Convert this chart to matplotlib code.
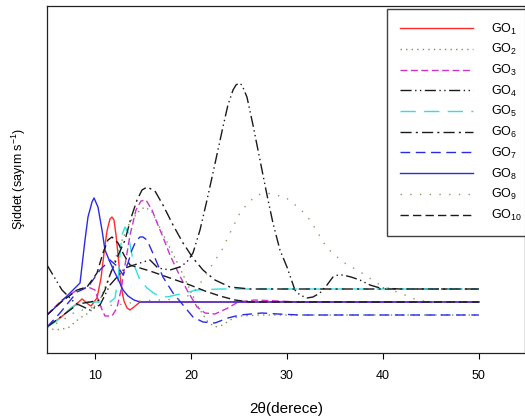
import matplotlib
matplotlib.use("Agg")
import matplotlib.pyplot as plt

plt.rcParams['font.family'] = ['Liberation Sans', 'DejaVu Sans']
plt.rcParams['mathtext.fontset'] = 'custom'
plt.rcParams['mathtext.rm'] = 'Liberation Sans'
plt.rcParams['mathtext.it'] = 'Liberation Sans:italic'
plt.rcParams['lines.scale_dashes'] = False

# --- data (2theta in degrees, intensity in arbitrary units) ---
go1_x = [5.0, 6.35, 7.71, 8.65, 9.27, 9.58, 10.21, 10.63, 10.94, 11.25, 11.56, 11.77, 11.98, 12.19, 12.4, 12.6, 12.81, 13.02, 13.34, 13.65, 14.06, 14.69, 50]
go1_y = [26, 35, 46, 54, 49, 47, 55, 75, 100, 122, 134, 136, 133, 118, 98, 78, 62, 52, 45, 43, 46, 51, 51]

go2_x = [5.0, 5.83, 7.19, 8.44, 9.48, 10.52, 11.56, 12.6, 13.65, 14.69, 15.21, 15.94, 16.77, 17.81, 18.85, 19.9, 20.94, 21.77, 22.5, 23.33, 24.06, 25.1, 27.19, 50]
go2_y = [26, 23, 25, 35, 41, 53, 78, 108, 131, 143, 146, 141, 125, 105, 85, 63, 43, 31, 26, 28, 33, 37, 38, 38]

go3_x = [5.0, 6.56, 8.13, 9.27, 10.0, 10.52, 11.04, 11.77, 12.29, 12.71, 13.13, 13.65, 14.27, 14.79, 15.31, 15.94, 16.56, 17.08, 17.81, 18.54, 19.58, 20.63, 21.46, 22.5, 23.85, 24.9, 26.67, 29.06, 31.35, 50]
go3_y = [38, 53, 63, 66, 63, 48, 37, 37, 45, 63, 88, 118, 143, 152, 153, 143, 128, 116, 98, 83, 63, 46, 40, 39, 45, 51, 53, 52, 51, 51]

go4_x = [5.0, 6.56, 7.92, 9.48, 10.52, 11.56, 13.13, 15.0, 15.73, 16.56, 17.81, 18.85, 19.58, 20.21, 20.94, 21.67, 22.29, 22.81, 23.33, 23.85, 24.38, 24.69, 25.0, 25.31, 25.83, 26.46, 27.19, 27.92, 28.54, 29.27, 30.0, 30.83, 31.35, 32.08, 32.71, 33.44, 34.17, 34.79, 35.31, 35.83, 36.67, 37.6, 38.65, 39.69, 41.77, 50]
go4_y = [88, 63, 50, 43, 48, 68, 85, 91, 93, 85, 83, 86, 91, 100, 123, 153, 180, 203, 226, 248, 263, 268, 270, 268, 256, 228, 193, 158, 130, 103, 86, 63, 58, 55, 56, 60, 68, 76, 78, 78, 76, 73, 68, 65, 64, 64]

go5_x = [5.0, 6.15, 7.6, 8.65, 10.0, 11.56, 12.08, 12.4, 12.6, 12.81, 13.13, 13.44, 13.75, 14.06, 14.69, 15.42, 16.25, 17.5, 18.85, 20.63, 23.02, 50]
go5_y = [26, 33, 46, 51, 51, 51, 55, 73, 98, 118, 126, 121, 103, 88, 73, 65, 59, 56, 59, 63, 64, 64]

go6_x = [5.0, 6.56, 8.23, 9.48, 10.52, 11.04, 11.56, 12.29, 13.13, 13.75, 14.38, 14.9, 15.42, 16.25, 17.08, 18.13, 19.17, 20.21, 21.25, 22.5, 24.06, 26.15, 50]
go6_y = [26, 37, 49, 51, 53, 63, 78, 95, 113, 135, 153, 163, 166, 162, 148, 128, 110, 95, 83, 73, 66, 64, 64]

go7_x = [5.0, 6.35, 8.13, 9.27, 10.52, 11.56, 12.4, 12.92, 13.44, 13.85, 14.27, 14.69, 15.0, 15.42, 16.25, 17.08, 18.13, 19.17, 20.21, 21.25, 22.5, 23.85, 25.1, 27.4, 29.06, 31.35, 50]
go7_y = [26, 40, 61, 66, 83, 93, 86, 78, 90, 103, 112, 116, 116, 113, 95, 76, 60, 48, 36, 31, 30, 35, 38, 40, 39, 38, 38]

go8_x = [5.0, 6.35, 7.71, 8.44, 8.96, 9.27, 9.69, 9.9, 10.31, 10.73, 11.04, 11.56, 11.98, 12.4, 12.92, 13.44, 14.06, 14.69, 50]
go8_y = [38, 50, 63, 70, 113, 136, 151, 155, 146, 123, 103, 91, 82, 74, 63, 57, 53, 51, 51]

go9_x = [5.0, 6.35, 7.92, 9.48, 11.04, 13.13, 14.69, 16.77, 18.85, 19.9, 20.73, 21.98, 23.23, 24.06, 25.1, 25.94, 26.88, 27.92, 28.75, 29.79, 30.63, 31.67, 32.4, 33.23, 34.17, 35.83, 37.81, 40.0, 41.77, 43.54, 44.9, 50]
go9_y = [26, 31, 41, 45, 47, 49, 52, 53, 54, 58, 66, 85, 103, 120, 140, 150, 158, 160, 158, 156, 150, 141, 133, 120, 105, 91, 80, 66, 60, 53, 51, 51]

go10_x = [5.0, 6.35, 8.13, 9.17, 10.21, 10.83, 11.35, 11.77, 12.4, 13.02, 13.65, 15.73, 17.81, 19.9, 21.46, 23.02, 24.58, 26.15, 50]
go10_y = [38, 50, 63, 66, 80, 100, 113, 116, 110, 98, 88, 82, 75, 68, 62, 57, 53, 51, 51]

labels = ['GO$_{\\mathrm{%d}}$' % i for i in range(1, 11)]
xticks = [10, 20, 30, 40, 50]

series = [
    (go1_x, go1_y, '#ff2a2a', '-'),
    (go2_x, go2_y, '#7d9160', (0, (1, 3))),
    (go3_x, go3_y, '#cc33cc', (0, (5, 2.5))),
    (go4_x, go4_y, '#1a1a1a', (0, (8, 2.5, 1, 2.5, 1, 2.5))),
    (go5_x, go5_y, '#30e0e0', (0, (11, 6))),
    (go6_x, go6_y, '#1a1a1a', (0, (8, 3, 1.5, 3))),
    (go7_x, go7_y, '#2a2ae8', (0, (7, 4))),
    (go8_x, go8_y, '#2a2ae8', '-'),
    (go9_x, go9_y, '#8a9a60', (0, (1, 6))),
    (go10_x, go10_y, '#1a1a1a', (0, (6, 3))),
]

fig = plt.figure(figsize=(5.25, 4.17), dpi=100)
ax = fig.add_axes([47/525, 1 - 353/417, 1 - 47/525, (353 - 6)/417])

for (x, y, c, ls), lab in zip(series, labels):
    ax.plot(x, y, color=c, linestyle=ls, linewidth=1.0, label=lab)

ax.set_xlim(5, 54.8)
ax.set_ylim(0, 347)
ax.set_xticks(xticks)
ax.set_xticklabels([str(t) for t in xticks], fontsize=9)
ax.set_yticks([])
ax.tick_params(axis='x', direction='out', length=4, width=0.8, pad=8)
for s in ax.spines.values():
    s.set_linewidth(0.9)
    s.set_color('#222222')

ax.set_xlabel('2θ(derece)', fontsize=11, labelpad=15)
ax.set_ylabel('Şiddet (sayım s$^{\\mathrm{-1}}$)', fontsize=9, labelpad=14)

leg = ax.legend(loc='upper left', bbox_to_anchor=(387/525, 1 - 9/417),
                bbox_transform=fig.transFigure, fontsize=9,
                handlelength=5.9, handletextpad=1.45, labelspacing=0.45,
                borderpad=1.0, frameon=True, fancybox=False, borderaxespad=0)
leg.get_frame().set_edgecolor('#111111')
leg.get_frame().set_linewidth(1.0)

fig.savefig('out.png', dpi=100)
